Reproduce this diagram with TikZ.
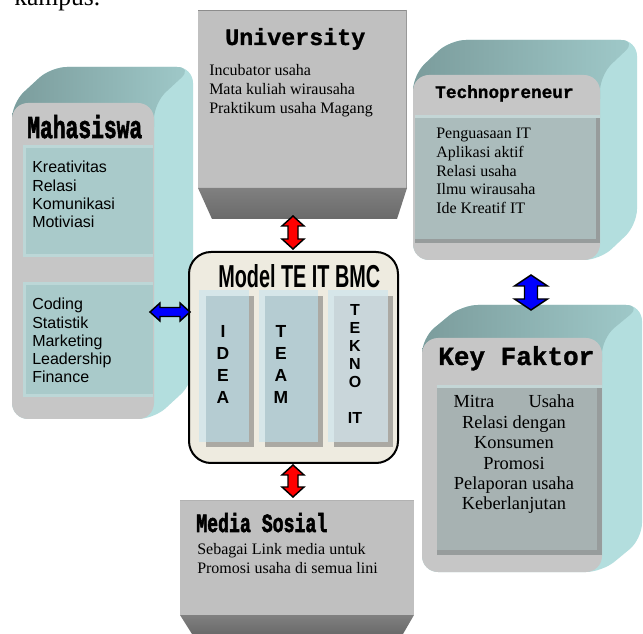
\documentclass[tikz,border=0pt]{standalone}
\usepackage{fontspec}
\usepackage{graphicx}
\setmainfont{Liberation Serif}
\newfontfamily\arialf{Liberation Sans}
\newfontfamily\monof{Liberation Mono}[BoldFeatures={FakeBold=1.2}]
\newfontfamily\monoh{Liberation Mono}[BoldFeatures={FakeBold=2.5}]
\usetikzlibrary{calc}
\definecolor{sideC}{HTML}{B3DEDE}
\definecolor{topL}{HTML}{7B9C9C}
\definecolor{topR}{HTML}{A0CACA}
\definecolor{frontG}{HTML}{C6C6C6}
\definecolor{mpanel}{HTML}{A9CACA}
\definecolor{mpanelL}{HTML}{BCD7D7}
\definecolor{tpanel}{HTML}{ABBCBC}
\definecolor{kpanel}{HTML}{A7B2B2}
\definecolor{pshadow}{HTML}{979C9C}
\definecolor{plight}{HTML}{C4D6D6}
\definecolor{ugray}{HTML}{C0C0C0}
\definecolor{bevT}{HTML}{808080}
\definecolor{bevB}{HTML}{6A6A6A}
\definecolor{cream}{HTML}{EEEBE0}
\definecolor{colL}{HTML}{D6E6E9}
\definecolor{colM}{HTML}{B5CCD2}
\definecolor{colM3}{HTML}{C9D6DA}
\definecolor{colS}{HTML}{ABA9A3}
\newcommand\lns[2]{\begin{tabular}[t]{@{}#1@{}}#2\end{tabular}}
\newcommand\tbox[6]{%
 \fill[sideC, rounded corners=12pt] (#1,#4) -- (#1,#2) -- (#1+#5,#2-#6) -- (#3+#5,#2-#6) -- (#3+#5,#4-#6) -- (#3,#4) -- cycle;
 \shade[left color=topL, right color=topR, rounded corners=12pt] (#1,#2+40) -- (#1,#2) -- (#1+#5,#2-#6) -- (#3+#5,#2-#6) -- (#3,#2) -- (#3,#2+40) -- cycle;
 \fill[frontG, rounded corners=12pt] (#1,#2) rectangle (#3,#4);
}
\newcommand\vdarr[6]{%
 \draw[fill=#3, line width=1.1pt, line join=miter] (#1) -- ($(#1)+(#5,#6)$) -- ($(#1)+(#4,#6)$) -- ($(#2)+(#4,-#6)$) -- ($(#2)+(#5,-#6)$) -- (#2) -- ($(#2)+(-#5,-#6)$) -- ($(#2)+(-#4,-#6)$) -- ($(#1)+(-#4,#6)$) -- ($(#1)+(-#5,#6)$) -- cycle;}
\newcommand\hdarr[6]{%
 \draw[fill=#3, line width=1.1pt, line join=miter] (#1) -- ($(#1)+(#6,-#5)$) -- ($(#1)+(#6,-#4)$) -- ($(#2)+(-#6,-#4)$) -- ($(#2)+(-#6,-#5)$) -- (#2) -- ($(#2)+(-#6,#5)$) -- ($(#2)+(-#6,#4)$) -- ($(#1)+(#6,#4)$) -- ($(#1)+(#6,#5)$) -- cycle;}
\tikzset{
 txt/.style={inner sep=0pt, anchor=base west},
 tms/.style={font=\fontsize{12pt}{13.9pt}\selectfont},
 tmsk/.style={font=\fontsize{13.8pt}{15.3pt}\selectfont},
 arl/.style={font=\arialf\fontsize{12pt}{13.65pt}\selectfont},
 colletters/.style={inner sep=0pt, anchor=base, font=\arialf\bfseries\fontsize{13.1pt}{16.3pt}\selectfont},
}
\begin{document}
\begin{tikzpicture}[x=0.75pt,y=-0.75pt]
\useasboundingbox (0,0) rectangle (643,634);
\begin{scope}
\clip (0,0) rectangle (643,634);
\fill[white] (0,0) rectangle (643,634);
\node[txt, font=\fontsize{19.2pt}{20pt}\selectfont] (kampus) at (14,5.5) {kampus.};

% University
\fill[ugray] (198,10) rectangle (407,188);
\draw[black!45, line width=0.8pt] (198,10.5) -- (407,10.5);
\draw[black!40, line width=0.8pt] (406.5,10) -- (406.5,188);
\shade[top color=bevT, bottom color=bevB] (198,188) -- (407,188) -- (397,219) -- (212,219) -- cycle;
\node[txt, font=\monof\bfseries\fontsize{17.5pt}{18pt}\selectfont] (univt) at (225,45) {University};
\node[txt, tms] (univb) at (209,76) {\lns{l}{Incubator usaha\\Mata kuliah wirausaha\\Praktikum usaha Magang}};

% Mahasiswa
\tbox{12}{103}{154}{419}{39}{36}
\fill[mpanelL] (23,145) rectangle (153,257);
\fill[mpanel] (26,148) rectangle (153,254);
\fill[mpanelL] (23,282) rectangle (153,397);
\fill[mpanel] (26,285) rectangle (153,394);
\node[txt] (mahat) at (27,138) {\resizebox{86.25pt}{17.25pt}{\monoh\bfseries Mahasiswa}};
\node[txt, arl] (mahab1) at (32,173) {\lns{l}{Kreativitas\\Relasi\\Komunikasi\\Motiviasi}};
\node[txt, arl] (mahab2) at (32,310) {\lns{l}{Coding\\Statistik\\Marketing\\Leadership\\Finance}};

% Technopreneur
\tbox{413}{75}{600}{260}{37}{35}
\fill[pshadow] (415,115) rectangle (600,243);
\fill[tpanel] (415,115) rectangle (596,239);
\fill[plight] (415,115) rectangle (600,118);
\node[txt, font=\monof\bfseries\fontsize{13.3pt}{14pt}\selectfont] (techt) at (435,98) {Technopreneur};
\node[txt, tms] (techb) at (436,139) {\lns{l}{Penguasaan IT\\Aplikasi aktif\\Relasi usaha\\Ilmu wirausaha\\Ide Kreatif IT}};

% Key Faktor
\tbox{422}{338}{602}{572}{40}{33}
\fill[pshadow] (437,385) rectangle (602,555);
\fill[kpanel] (437,385) rectangle (597,550);
\fill[plight] (437,385) rectangle (602,388);
\node[txt, font=\monof\bfseries\fontsize{19.5pt}{20pt}\selectfont] (keyt) at (438,365) {Key Faktor};
\node[inner sep=0pt, anchor=base, tmsk] (keyb) at (514,408) {\lns{c}{\makebox[90.75pt]{Mitra\hfill Usaha}\\Relasi dengan\\Konsumen\\Promosi\\Pelaporan usaha\\Keberlanjutan}};

% Center model
\draw[fill=cream, line width=1.5pt, rounded corners=16.5pt] (189,252) rectangle (398,463);
\node[txt] (modelt) at (218,288) {\resizebox{121.5pt}{17.25pt}{\arialf\bfseries Model TE IT BMC}};
\fill[colL] (199,290) rectangle (249,442);
\fill[colS] (206,296) rectangle (254,447);
\fill[colM] (206,296) rectangle (249,442);
\fill[colL] (259,290) rectangle (318,442);
\fill[colS] (265,296) rectangle (323,447);
\fill[colM] (265,296) rectangle (318,442);
\fill[colL] (328,290) rectangle (388,442);
\fill[colS] (334,296) rectangle (393,447);
\fill[colM3] (334,296) rectangle (388,442);
\node[colletters] (idea) at (223,338) {\lns{c}{I\\D\\E\\A}};
\node[colletters] (team) at (281,338) {\lns{c}{T\\E\\A\\M}};
\node[colletters, font=\arialf\bfseries\fontsize{12pt}{13.5pt}\selectfont] (tekno) at (355,316) {\lns{c}{T\\E\\K\\N\\O\\ \\IT}};

% Media Sosial
\fill[ugray] (180,500) rectangle (414,615);
\draw[black!30, line width=0.8pt] (180,500.5) -- (414,500.5);
\shade[top color=bevT, bottom color=bevB] (180,615) -- (414,615) -- (403,634) -- (192,634) -- cycle;
\node[txt] (mediat) at (196,532) {\resizebox{98.25pt}{14.25pt}{\monoh\bfseries Media Sosial}};
\node[txt, tms] (mediab) at (197,555) {\lns{l}{Sebagai Link media untuk\\Promosi usaha di semua lini}};

% Arrows
\coordinate (ua) at (293,216);
\coordinate (ub) at (293,249);
\vdarr{ua}{ub}{red}{5}{11}{10}
\coordinate (ma) at (293,465);
\coordinate (mb) at (293,497);
\vdarr{ma}{mb}{red}{5}{11}{10}
\coordinate (ha) at (150,312);
\coordinate (hb) at (190,312);
\hdarr{ha}{hb}{blue}{4.5}{9}{10}
\coordinate (ka) at (531,275);
\coordinate (kb) at (531,310);
\vdarr{ka}{kb}{blue}{6.5}{16.5}{11}
\end{scope}
\end{tikzpicture}
\end{document}
